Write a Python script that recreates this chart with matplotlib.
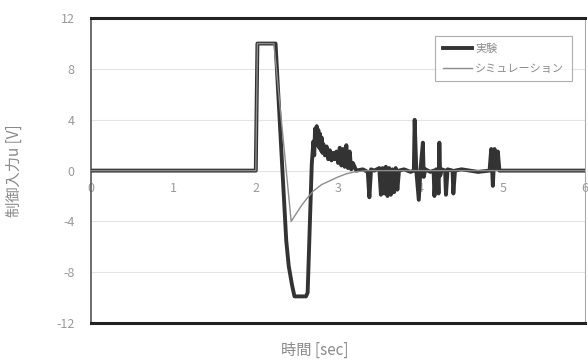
import matplotlib
matplotlib.use("Agg")
from matplotlib import pyplot as plt

plt.rcParams['font.family'] = ['Noto Sans CJK JP', 'DejaVu Sans']

# experiment (measured control input)
t_exp = [
    0.00, 2.00, 2.02, 2.24, 2.37, 2.40, 2.44, 2.47, 2.61, 2.63, 2.68,
    2.70, 2.71, 2.72, 2.73, 2.74, 2.75, 2.76, 2.77, 2.78, 2.79, 2.80, 2.81, 2.82,
    2.84, 2.86, 2.88, 2.90, 2.92, 2.94, 2.96, 2.98, 3.00, 3.02, 3.04, 3.06, 3.08,
    3.10, 3.12, 3.14, 3.16, 3.18, 3.22, 3.30, 3.36, 3.38, 3.40, 3.44, 3.50, 3.52,
    3.54, 3.56, 3.58, 3.60, 3.62, 3.64, 3.66, 3.68, 3.70, 3.72, 3.74, 3.80, 3.88,
    3.92, 3.93, 3.95, 3.98, 4.00, 4.03, 4.04, 4.06, 4.12, 4.16, 4.17, 4.19, 4.21,
    4.22, 4.23, 4.24, 4.26, 4.30, 4.31, 4.33, 4.39, 4.40, 4.42, 4.50, 4.70, 4.84,
    4.86, 4.88, 4.90, 4.92, 4.94, 4.96, 5.10, 6.00
]
v_exp = [
    0.0, 0.0, 10.0, 10.0, -5.5, -7.5, -9.0, -9.9, -9.9, -9.6, 0.5,
    2.3, 1.2, 3.3, 2.0, 3.5, 2.4, 3.2, 1.8, 2.9, 1.6, 2.6, 1.4, 2.1,
    1.2, 1.9, 0.9, 1.6, 0.8, 1.4, 0.9, 1.5, 0.6, 1.8, 0.4, 1.7, 0.3,
    2.0, 0.2, 1.5, 0.1, 0.6, 0.0, 0.1, -0.1, -2.1, 0.1, 0.0, 0.2, -1.9,
    0.2, -1.8, 0.3, -2.0, 0.2, -1.9, 0.1, -1.7, 0.2, -1.5, 0.0, 0.1, -0.1,
    0.0, 4.0, 0.0, -2.3, 0.0, 2.2, -0.5, 0.1, -0.1, 0.0, -2.0, 0.1, 0.0,
    -1.8, 2.2, -0.4, 0.1, 0.0, -1.9, 0.1, 0.0, -1.8, 0.0, 0.1, -0.1, 0.0,
    1.7, -1.2, 1.7, 0.2, 1.5, 0.0, 0.0, 0.0
]

# simulation
t_sim = [0.00, 2.00, 2.02, 2.22, 2.43, 2.47, 2.55, 2.62, 2.70, 2.80, 2.90,
         3.00, 3.10, 3.20, 3.35, 6.00]
v_sim = [0.0, 0.0, 10.0, 10.0, -4.0, -3.6, -2.8, -2.2, -1.6, -1.1, -0.8,
         -0.5, -0.25, -0.1, 0.0, 0.0]

y_ticks = [-12, -8, -4, 0, 4, 8, 12]
x_ticks = [0, 1, 2, 3, 4, 5, 6]

fig = plt.figure(figsize=(5.88, 3.63), dpi=100)
ax = fig.add_axes([0.155, 0.110, 0.840, 0.840])

ax.plot(t_exp, v_exp, color='#333333', lw=2.8, zorder=4, label='実験')
ax.plot(t_sim, v_sim, color='#8c8c8c', lw=1.0, zorder=5, label='シミュレーション')

ax.set_xlim(0, 6)
ax.set_ylim(-12, 12)
ax.set_yticks(y_ticks)
ax.set_yticklabels([str(v) for v in y_ticks])
ax.yaxis.grid(True, color='#e4e4e4', lw=0.8)
ax.set_axisbelow(True)
ax.tick_params(axis='y', length=0, labelsize=9, labelcolor='#999999', pad=12)

# x tick labels sit just below the zero line
ax.set_xticks([])
sec = ax.secondary_xaxis(0.5)
sec.xaxis.set_ticks_position('bottom')
sec.set_xticks(x_ticks)
sec.set_xticklabels([str(v) for v in x_ticks])
sec.tick_params(length=0, labelsize=9, labelcolor='#999999', pad=8)
for s in sec.spines.values():
    s.set_visible(False)

for side in ['top', 'bottom']:
    ax.spines[side].set_linewidth(2.2)
    ax.spines[side].set_color('#222222')
ax.spines['left'].set_linewidth(1.2)
ax.spines['left'].set_color('#555555')
ax.spines['right'].set_linewidth(0.8)
ax.spines['right'].set_color('#aaaaaa')

ax.set_ylabel('制御入力u [V]', fontsize=11, color='#8a8a8a', labelpad=24)
fig.text(0.535, 0.035, '時間 [sec]', fontsize=11, color='#8a8a8a', ha='center', va='center')

leg = ax.legend(loc='upper right', bbox_to_anchor=(0.985, 0.96), fontsize=8,
                frameon=True, fancybox=False, handlelength=2.6, borderpad=0.7,
                labelspacing=0.9, handletextpad=0.3)
leg.get_frame().set_edgecolor('#999999')
leg.get_frame().set_linewidth(0.8)
for txt in leg.get_texts():
    txt.set_color('#8a8a8a')

fig.savefig('out.png', dpi=100)
